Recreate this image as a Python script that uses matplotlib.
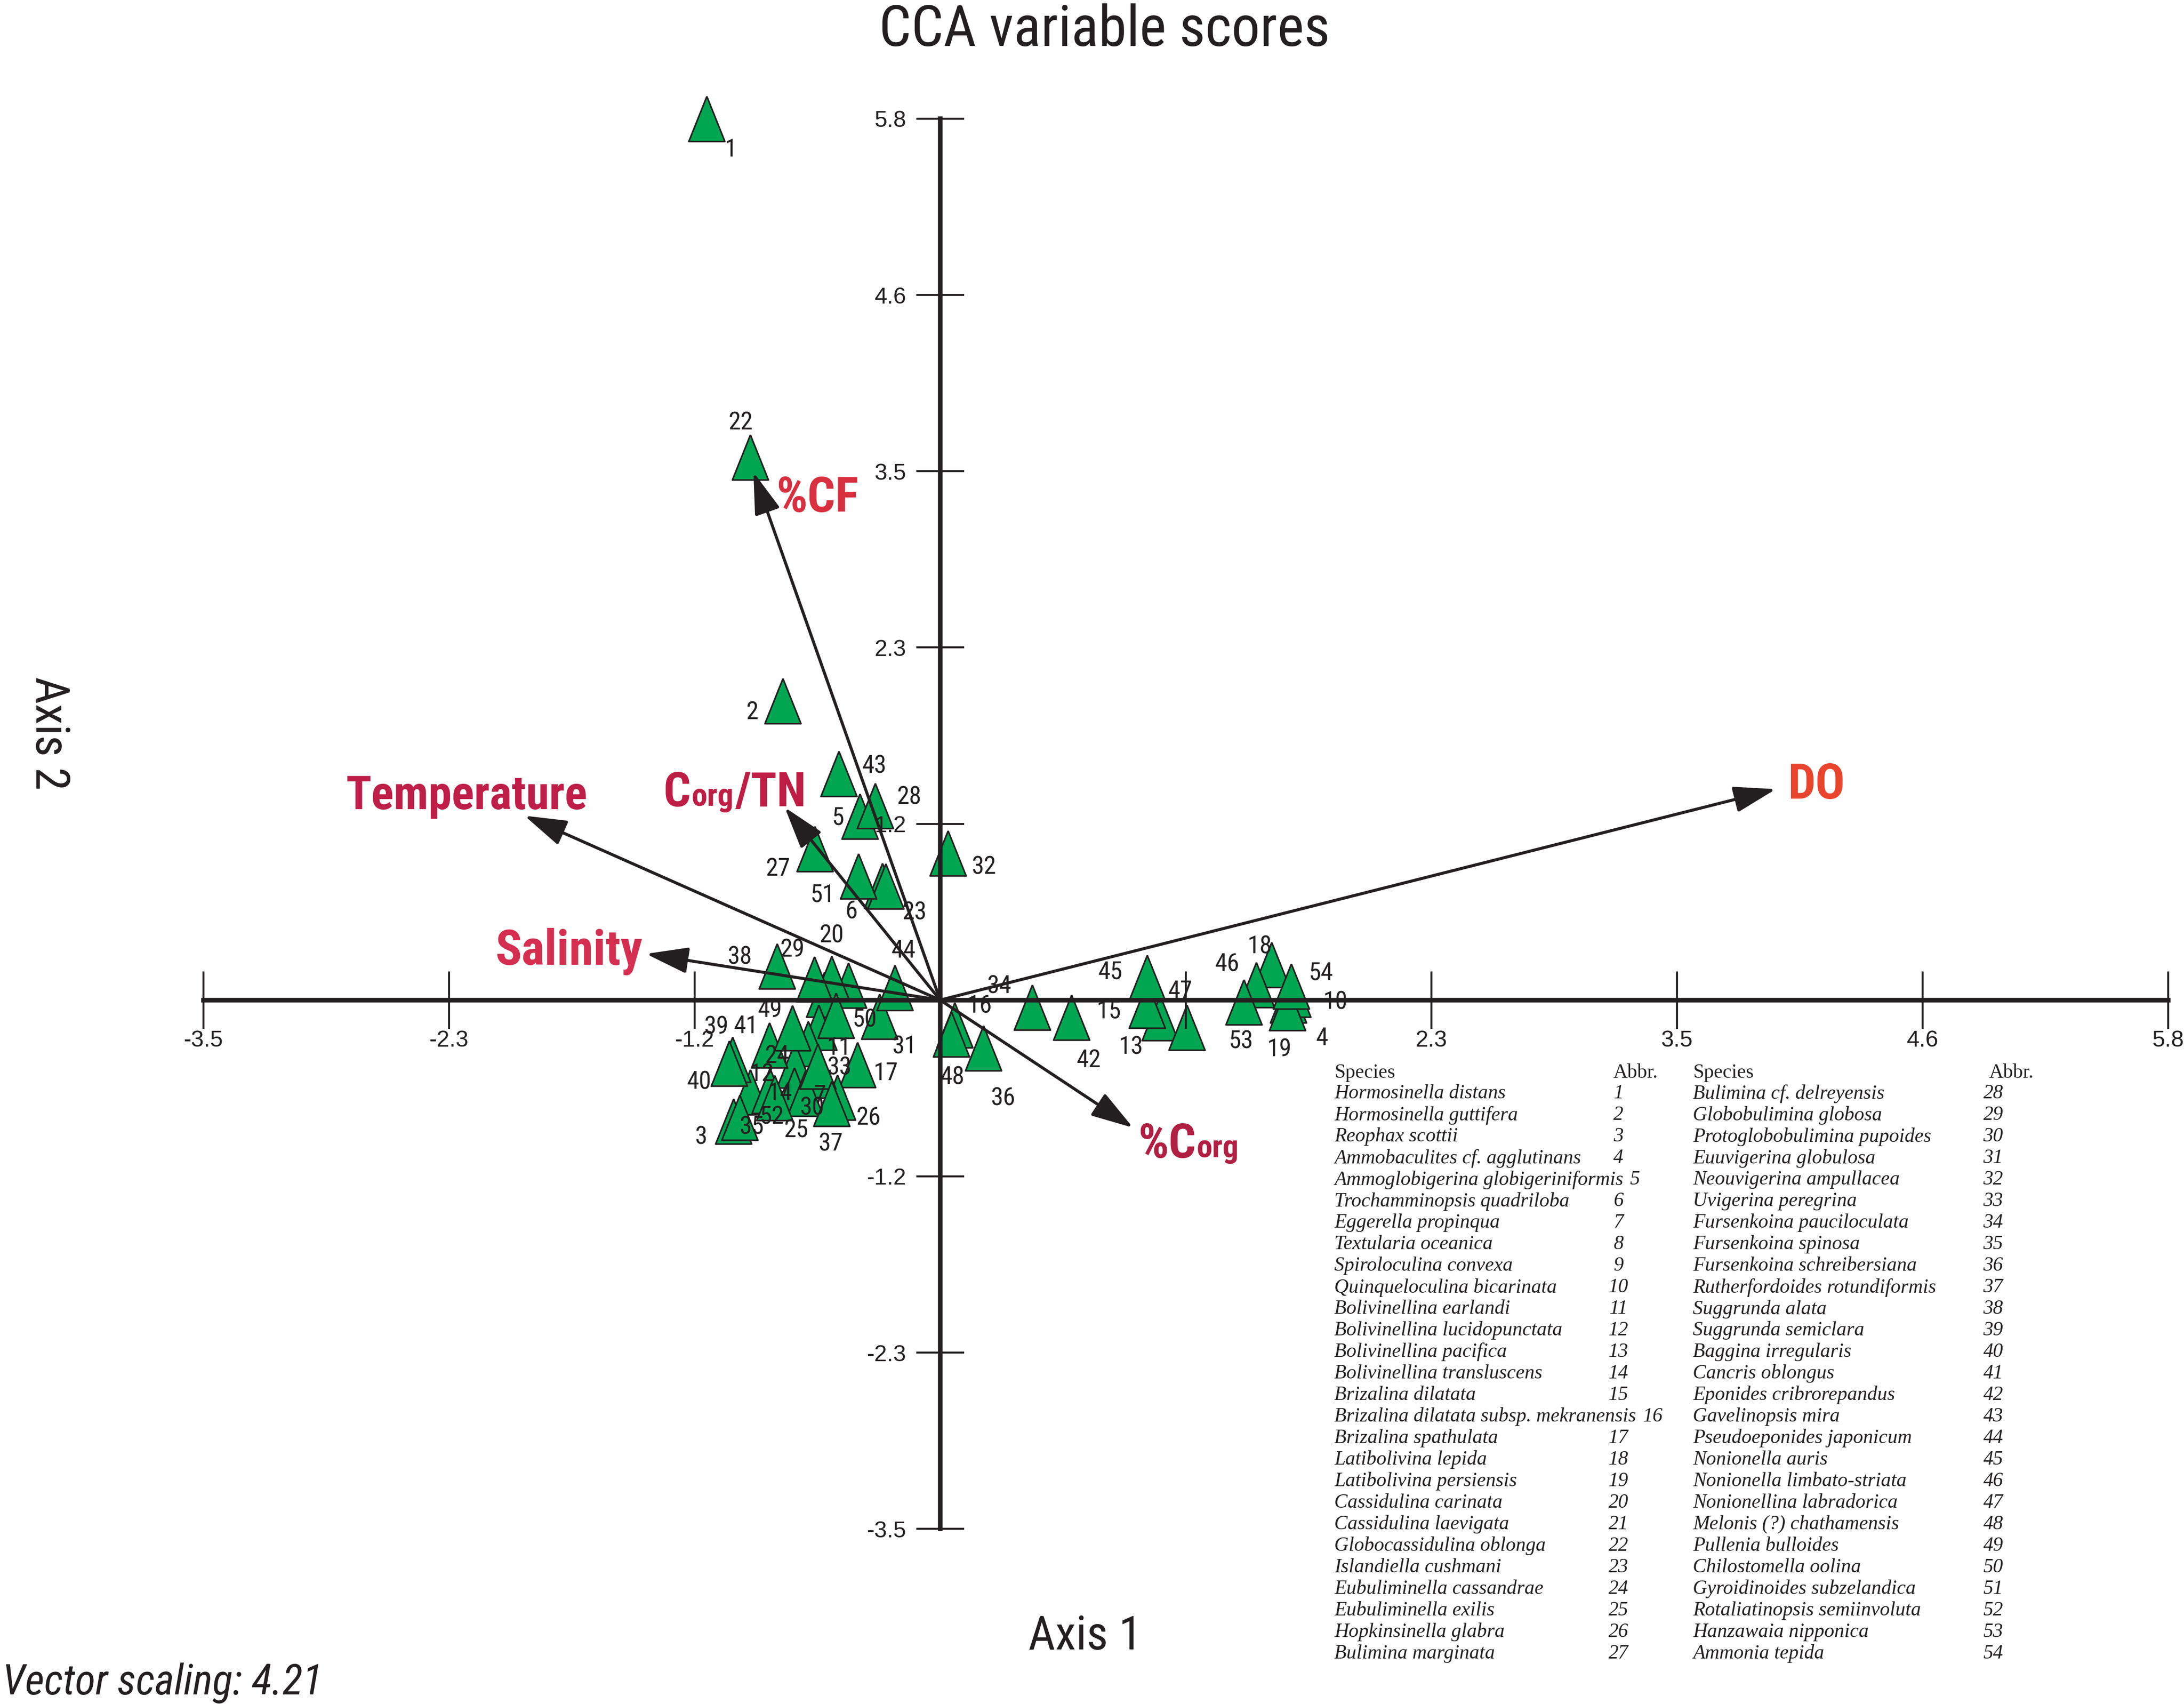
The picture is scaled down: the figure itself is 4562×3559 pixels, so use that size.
import matplotlib
matplotlib.use("Agg")
import matplotlib.pyplot as plt
from matplotlib import font_manager

# -----------------------------
# DATA
# -----------------------------
species_id = list(range(1, 55))

species_name = [
    "Hormosinella distans", "Hormosinella guttifera", "Reophax scottii",
    "Ammobaculites cf. agglutinans", "Ammoglobigerina globigeriniformis",
    "Trochamminopsis quadriloba", "Eggerella propinqua", "Textularia oceanica",
    "Spiroloculina convexa", "Quinqueloculina bicarinata", "Bolivinellina earlandi",
    "Bolivinellina lucidopunctata", "Bolivinellina pacifica", "Bolivinellina transluscens",
    "Brizalina dilatata", "Brizalina dilatata subsp. mekranensis", "Brizalina spathulata",
    "Latibolivina lepida", "Latibolivina persiensis", "Cassidulina carinata",
    "Cassidulina laevigata", "Globocassidulina oblonga", "Islandiella cushmani",
    "Eubuliminella cassandrae", "Eubuliminella exilis", "Hopkinsinella glabra",
    "Bulimina marginata",
    "Bulimina cf. delreyensis", "Globobulimina globosa", "Protoglobobulimina pupoides",
    "Euuvigerina globulosa", "Neouvigerina ampullacea", "Uvigerina peregrina",
    "Fursenkoina pauciloculata", "Fursenkoina spinosa", "Fursenkoina schreibersiana",
    "Rutherfordoides rotundiformis", "Suggrunda alata", "Suggrunda semiclara",
    "Baggina irregularis", "Cancris oblongus", "Eponides cribrorepandus",
    "Gavelinopsis mira", "Pseudoeponides japonicum", "Nonionella auris",
    "Nonionella limbato-striata", "Nonionellina labradorica", "Melonis (?) chathamensis",
    "Pullenia bulloides", "Chilostomella oolina", "Gyroidinoides subzelandica",
    "Rotaliatinopsis semiinvoluta", "Hanzawaia nipponica", "Ammonia tepida",
]

# species scores, axis 1
axis1 = [
    -1.103, -0.743, -0.977, 1.645, -0.379, -0.273, -0.592, -0.434, -0.546, 1.664,
    -0.574, -0.898, 1.038, -0.805, 0.977, 0.068, -0.390, 1.566, 1.639, -0.513,
    -0.624, -0.897, -0.257, -0.686, -0.689, -0.485, -0.591, -0.308, -0.595, -0.638,
    -0.286, 0.037, -0.578, 0.435, -0.947, 0.203, -0.513, -0.771, -0.982, -0.997,
    -0.807, 0.619, -0.478, -0.215, 0.977, 1.493, 1.164, 0.052, -0.699, -0.493,
    -0.387, -0.783, 1.434, 1.658,
]
# species scores, axis 2
axis2 = [
    5.800, 1.967, -0.799, 0.000, 1.208, 0.752, -0.496, 0.098, 0.037, 0.037,
    -0.180, -0.607, -0.118, -0.596, -0.037, -0.165, -0.426, 0.231, -0.051, 0.142,
    -0.288, 3.572, 0.749, -0.429, -0.593, -0.642, 0.995, 1.278, 0.139, -0.616,
    -0.108, 0.967, -0.435, -0.048, -0.772, -0.315, -0.680, 0.223, -0.393, -0.418,
    -0.298, -0.113, 1.491, 0.080, 0.147, 0.099, -0.182, -0.226, -0.184, -0.103,
    0.815, -0.643, -0.014, 0.092,
]

# environmental vectors (tips, already multiplied by the vector scaling)
env_names = ["%CF", "Temperature", "Corg/TN", "Salinity", "DO", "%Corg"]
env_axis1 = [-0.882, -1.963, -0.734, -1.389, 3.947, 0.911]
env_axis2 = [3.474, 1.213, 1.268, 0.304, 1.388, -0.840]
vector_scaling = 4.21

tick_values = [-3.48, -2.32, -1.16, 1.16, 2.32, 3.48, 4.64, 5.8]

# -----------------------------
# FONTS
# -----------------------------
def pick_narrow():
    fonts = font_manager.fontManager.ttflist
    names = {f.name for f in fonts}
    for n in ["Liberation Sans Narrow", "Roboto Condensed", "Open Sans Condensed",
              "Noto Sans Condensed", "Noto Sans ExtraCondensed"]:
        if n in names:
            return dict(family=n), 1.0
    for f in fonts:
        if str(f.stretch) in ("condensed", "semi-condensed") and \
                f.name in ("Noto Sans", "Open Sans", "Roboto", "Inter", "Lato"):
            return dict(family=f.name, stretch=str(f.stretch)), 1.0
    return dict(family="Liberation Sans"), 0.86


NARROW, NSCALE = pick_narrow()
WIDE = "Liberation Sans"
SERIF = "Liberation Serif"

INK = "#231F20"
GREEN = "#00A651"

# label offsets in points from each triangle
LABEL_OFFSET = {
    1: (12.1, -15.7), 2: (-15.4, -5.6), 3: (-16.1, -7.9), 4: (16.9, -19.2),
    5: (-11.0, -0.8), 6: (-15.5, -12.8), 7: (2.5, -10.2), 10: (21.7, -4.0),
    11: (10.2, -10.3), 12: (6.1, 8.9), 13: (-14.4, -14.7), 14: (5.3, -1.4),
    15: (-19.0, -2.8), 16: (12.7, 9.8), 17: (14.2, -4.3), 18: (-5.8, 9.2),
    19: (-3.8, -20.9), 20: (0.2, 21.4), 22: (-4.7, 17.4), 23: (14.5, -13.3),
    24: (-8.9, 4.5), 25: (1.0, -20.2), 26: (15.5, -10.3), 27: (-18.5, -10.2),
    28: (17.3, 4.2), 29: (-11.0, 14.6), 30: (3.6, -7.3), 31: (12.4, -15.3),
    32: (18.1, -7.1), 33: (10.7, -0.8), 34: (-16.5, 10.4), 35: (6.0, -5.0),
    36: (10.1, -25.5), 37: (-0.5, -20.4), 38: (-18.6, 4.5), 39: (-8.0, 16.3),
    40: (-15.0, -9.5), 41: (-11.6, 9.4), 42: (8.7, -21.8), 43: (17.7, 3.7),
    44: (4.3, 18.6), 45: (-18.3, 2.8), 46: (-14.6, 10.4), 47: (-3.1, 18.1),
    48: (0.6, -21.6), 49: (-11.2, 9.0), 50: (14.4, -2.1), 51: (-17.9, -9.5),
    52: (-1.3, -9.8), 53: (-1.4, -19.8), 54: (14.8, 6.6),
}
HIDDEN_LABELS = {8, 9, 21}   # covered by triangles in the original

ENV_COLOR = {
    "%CF": "#D8303F", "Temperature": "#BE1E48", "Corg/TN": "#BE1E44",
    "Salinity": "#D52F50", "DO": "#E8452C", "%Corg": "#B11F42",
}
ENV_SIZE = {"%CF": 24.5, "Temperature": 23.5, "Corg/TN": 24.0,
            "Salinity": 24.5, "DO": 24.5, "%Corg": 24.0}
# offset (points) of the label baseline from the arrow tip
ENV_OFFSET = {
    "%CF": (32.0, -19.8), "Temperature": (-29.1, 3.2), "Salinity": (-38.7, -5.5),
    "DO": (20.2, -4.7), "Corg/TN": (-60.8, 0.6), "%Corg": (2.5, -15.1),
}
ENV_PARTS = {
    "Corg/TN": [("C", 1.0), ("org", 0.66), ("/TN", 1.0)],
    "%Corg": [("%C", 1.0), ("org", 0.66)],
}

# -----------------------------
# FIGURE
# -----------------------------
fig = plt.figure(figsize=(4562 / 300, 3559 / 300), dpi=300)
ax = fig.add_axes([0.09311, 0.10279, 0.89962, 0.82754])
ax.set_xlim(-3.48, 5.8)
ax.set_ylim(-3.48, 5.8)
ax.patch.set_visible(False)

# axes through the origin
for side in ["top", "right"]:
    ax.spines[side].set_visible(False)
for side in ["left", "bottom"]:
    ax.spines[side].set_position("zero")
    ax.spines[side].set_bounds(-3.48, 5.8)
    ax.spines[side].set_linewidth(2.3)
    ax.spines[side].set_color(INK)
    ax.spines[side].set_zorder(4)

ax.set_xticks(tick_values)
ax.set_yticks(tick_values)
ax.set_xticklabels(["" if abs(v - 1.16) < 1e-6 else f"{v:.1f}" for v in tick_values])
ax.set_yticklabels([f"{v:.1f}" for v in tick_values])
ax.tick_params(axis="x", direction="inout", length=29, width=1.0, pad=0.5,
               color=INK, labelsize=11.5, labelcolor=INK)
ax.tick_params(axis="y", direction="inout", length=24, width=1.0, pad=5,
               color=INK, labelsize=11.5, labelcolor=INK)
for lab in ax.get_xticklabels() + ax.get_yticklabels():
    lab.set_family(WIDE)
ax.xaxis.set_zorder(4)
ax.yaxis.set_zorder(4)

# species triangles
tri = [(0, 1), (-0.8, -1), (0.8, -1), (0, 1)]
ax.scatter(axis1, axis2, marker=tri, s=22.6 ** 2, facecolor=GREEN,
           edgecolor=INK, linewidth=0.8, zorder=3, clip_on=False)

for num, x, y in zip(species_id, axis1, axis2):
    hidden = num in HIDDEN_LABELS
    dx, dy = LABEL_OFFSET.get(num, (0, -4))
    ax.annotate(str(num), (x, y), xytext=(dx, dy), textcoords="offset points",
                ha="center", va="center", fontsize=12.5 * NSCALE, **NARROW,
                color=INK, zorder=2 if hidden else 6, annotation_clip=False)

# environmental vectors
for name, ex, ey in zip(env_names, env_axis1, env_axis2):
    ax.annotate("", xy=(ex, ey), xytext=(0, 0),
                arrowprops=dict(arrowstyle="-|>,head_length=0.9,head_width=0.28",
                                mutation_scale=20, lw=1.5, color=INK,
                                shrinkA=0, shrinkB=0),
                zorder=5, annotation_clip=False)
    color = ENV_COLOR[name]
    off = ENV_OFFSET[name]
    size = ENV_SIZE[name] * NSCALE
    if name in ENV_PARTS:
        first = prev = None
        for txt, scale in ENV_PARTS[name]:
            if first is None:
                t = ax.annotate(txt, (ex, ey), xytext=off, textcoords="offset points",
                                ha="left", va="baseline", fontsize=size,
                                **NARROW, weight="bold", color=color,
                                zorder=6, annotation_clip=False)
                first = t
            else:
                lift = 0.21 * size * (1 - scale)
                t = ax.annotate(txt, (1, 0), xycoords=(prev, first),
                                xytext=(0.5, lift), textcoords="offset points",
                                ha="left", va="bottom", fontsize=size * scale,
                                **NARROW, weight="bold", color=color, zorder=6)
            prev = t
    else:
        ax.annotate(name, (ex, ey), xytext=off, textcoords="offset points",
                    ha="center", va="baseline", fontsize=size, **NARROW,
                    weight="bold", color=color, zorder=6, annotation_clip=False)

# titles
fig.text(0.5057, 0.9730, "CCA variable scores", ha="center", va="baseline",
         fontsize=28.5 * NSCALE, **NARROW, color=INK)
fig.text(0.4968, 0.0320, "Axis 1", ha="center", va="baseline",
         fontsize=23.5 * NSCALE, **NARROW, color=INK)
fig.text(0.0223, 0.5697, "Axis 2", ha="center", va="center", rotation=-90,
         fontsize=23.5 * NSCALE, **NARROW, color=INK)
fig.text(0.001, 0.0055, f"Vector scaling: {vector_scaling:.2f}", ha="left",
         va="baseline", fontsize=21 * NSCALE, **NARROW, style="italic",
         color=INK)

# -----------------------------
# SPECIES TABLE
# -----------------------------
def row_y(i):
    return 1 - (783 + i * 15.42) / 1220

header_y = 1 - 768 / 1220
columns = [
    (species_id[:27], species_name[:27], 958 / 1568, 1162 / 1568, 1158 / 1568),
    (species_id[27:], species_name[27:], 1215.5 / 1568, 1431 / 1568, 1428 / 1568),
]
table_font = dict(fontsize=10, family=SERIF, color=INK)
pending = []
for ids, names, x_name, x_num, x_abbr in columns:
    fig.text(x_name, header_y, "Species", ha="left", va="center", **table_font)
    fig.text(x_abbr, header_y, "Abbr.", ha="left", va="center", **table_font)
    for i, (num, name) in enumerate(zip(ids, names)):
        t_name = fig.text(x_name, row_y(i), name, ha="left", va="center",
                          style="italic", **table_font)
        t_num = fig.text(x_num, row_y(i), str(num), ha="center", va="center",
                         style="italic", **table_font)
        pending.append((t_name, t_num))

# push a number to the right if its name runs into it
fig.canvas.draw()
renderer = fig.canvas.get_renderer()
inv = fig.transFigure.inverted()
for t_name, t_num in pending:
    name_right = inv.transform(t_name.get_window_extent(renderer).p1)[0]
    num_left = inv.transform(t_num.get_window_extent(renderer).p0)[0]
    if name_right + 0.002 > num_left:
        t_num.set_ha("left")
        t_num.set_x(name_right + 0.003)

fig.savefig("out.png", dpi=300)
plt.close(fig)
